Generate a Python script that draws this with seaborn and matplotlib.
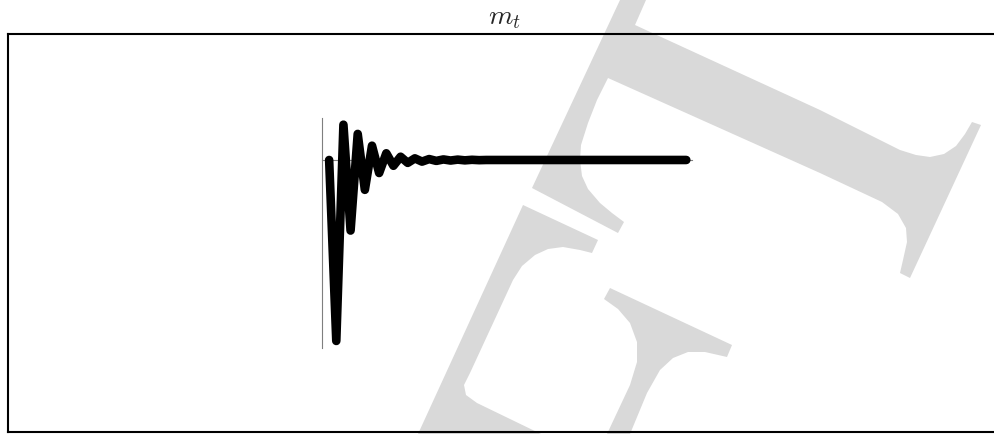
import matplotlib
matplotlib.use("Agg")
import matplotlib.pyplot as plt
from matplotlib.patches import Polygon
import seaborn as sns
import pandas as pd

# ---- data ----
t = list(range(1, 52))
m_values = [0.0, -1.0, 0.195, -0.39, 0.144, -0.165, 0.079, -0.072, 0.037, -0.032,
            0.018, -0.016, 0.009, -0.009, 0.005, -0.005, 0.003, -0.003, 0.002, -0.002,
            0.001, -0.001, 0.0, 0.0, 0.0, 0.0, 0.0, 0.0, 0.0, 0.0,
            0.0, 0.0, 0.0, 0.0, 0.0, 0.0, 0.0, 0.0, 0.0, 0.0,
            0.0, 0.0, 0.0, 0.0, 0.0, 0.0, 0.0, 0.0, 0.0, 0.0, 0.0]
title = "$m_t$"

df = pd.DataFrame({"t": t, "m": m_values})

sns.set_theme(style="white")
plt.rcParams["mathtext.fontset"] = "cm"

W, H = 995, 434
fig = plt.figure(figsize=(W / 100, H / 100), dpi=100)
fig.patch.set_facecolor("white")


def fx(x):
    return x / W


def fy(y):
    return 1 - y / H


# ---- background watermark shapes (pixel outlines) ----
shapes = [
    [(620, 0), (646, 0), (635, 25), (820, 110), (900, 150), (916, 155), (930, 157),
     (944, 154), (956, 146), (965, 134), (972, 122), (981, 125), (910, 278), (900, 273),
     (903, 260), (907, 242), (906, 228), (898, 214), (882, 202), (820, 173),
     (608, 78), (597, 100), (588, 123), (581, 145), (580, 160), (582, 176),
     (588, 189), (600, 203), (612, 213), (624, 222), (618, 233), (532, 188)],
    [(523, 205), (598, 240), (592, 253), (580, 250), (563, 247), (548, 249),
     (535, 255), (522, 266), (513, 280), (470, 373), (464, 385), (466, 395), (477, 403),
     (541, 434), (418, 434)],
    [(610, 288), (732, 345), (727, 357), (705, 352), (688, 352), (673, 358), (660, 370),
     (647, 393), (630, 434), (607, 434), (630, 385), (637, 362), (637, 342), (630, 323),
     (618, 309), (604, 299)],
]
for pts in shapes:
    poly = Polygon([(fx(x), fy(y)) for x, y in pts], closed=True,
                   transform=fig.transFigure, facecolor="#d9d9d9",
                   edgecolor="none", zorder=-1)
    fig.add_artist(poly)

# ---- outer frame ----
frame = fig.add_axes([fx(8), fy(432), fx(1000 - 8), (432 - 34) / H])
frame.set_facecolor("none")
frame.set_xticks([])
frame.set_yticks([])
for s in frame.spines.values():
    s.set_color("black")
    s.set_linewidth(1.5)

fig.text(fx(504), fy(17), title, ha="center", va="center", fontsize=20)

# ---- inner plot ----
x0, x1 = 322, 692
y0, y1 = 118, 348
ax = fig.add_axes([fx(x0), fy(y1), (x1 - x0) / W, (y1 - y0) / H])
ax.set_facecolor("none")
sns.lineplot(data=df, x="t", y="m", ax=ax, color="black", linewidth=6.2,
             solid_capstyle="round", solid_joinstyle="round")
ax.set_xlim(0, 51.8)
ax.set_ylim(-1.039, 0.232)
ax.set_xlabel("")
ax.set_ylabel("")
ax.set_xticks([])
ax.set_yticks([])
ax.spines["top"].set_visible(False)
ax.spines["right"].set_visible(False)
ax.spines["left"].set_position(("data", 0))
ax.spines["bottom"].set_position(("data", 0))
for s in ("left", "bottom"):
    ax.spines[s].set_color("#7f7f7f")
    ax.spines[s].set_linewidth(0.8)
    ax.spines[s].set_zorder(1)

fig.savefig("out.png", dpi=100)
